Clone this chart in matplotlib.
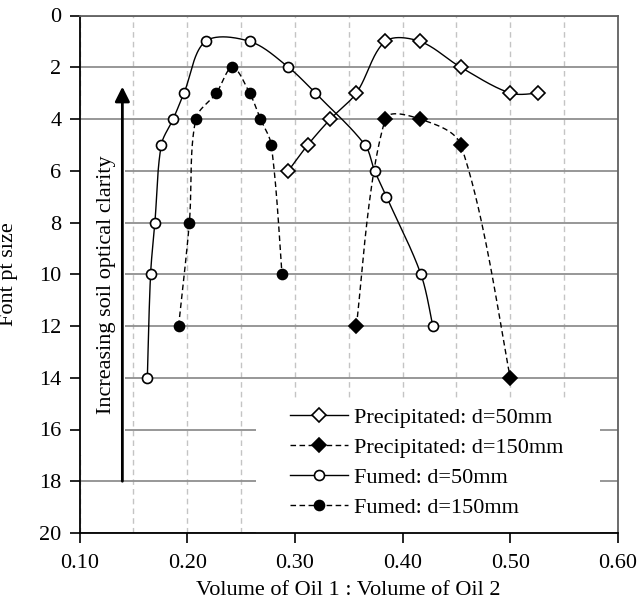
import numpy as np
import matplotlib
matplotlib.use('Agg')
import matplotlib.pyplot as plt
from matplotlib.patches import Rectangle
from matplotlib.lines import Line2D

plt.rcParams['font.family'] = ['Liberation Serif', 'DejaVu Serif']

# ---- data ----
prec50_x = [0.294, 0.312, 0.333, 0.357, 0.384, 0.416, 0.454, 0.500, 0.526]
prec50_y = [6, 5, 4, 3, 1, 1, 2, 3, 3]
prec150_x = [0.357, 0.384, 0.416, 0.454, 0.500]
prec150_y = [12, 4, 4, 5, 14]
fumed50_x = [0.163, 0.166, 0.170, 0.176, 0.187, 0.197, 0.217, 0.258, 0.294,
             0.319, 0.365, 0.374, 0.385, 0.417, 0.428]
fumed50_y = [14, 10, 8, 5, 4, 3, 1, 1, 2, 3, 5, 6, 7, 10, 12]
fumed150_x = [0.192, 0.202, 0.208, 0.227, 0.242, 0.258, 0.268, 0.278, 0.288]
fumed150_y = [12, 8, 4, 3, 2, 3, 4, 5, 10]

labels = ['Precipitated: d=50mm', 'Precipitated: d=150mm',
          'Fumed: d=50mm', 'Fumed: d=150mm']
xticks = [0.10, 0.20, 0.30, 0.40, 0.50, 0.60]
yticks = list(range(0, 21, 2))

# screen scale (px per data unit) used for smoothing like a spreadsheet chart
SX, SY = 1075.0, 25.85


def smooth(xs, ys, n=40):
    P = np.column_stack([np.asarray(xs) * SX, np.asarray(ys) * SY])
    E = np.vstack([P[0], P, P[-1]])
    out = []
    t = np.linspace(0, 1, n)[:, None]
    for i in range(len(P) - 1):
        p0, p1, p2, p3 = E[i], E[i + 1], E[i + 2], E[i + 3]
        d01 = np.hypot(*(p1 - p0))
        d12 = np.hypot(*(p2 - p1))
        d23 = np.hypot(*(p3 - p2))
        f1 = d12 / (d01 + d12) / 3.0 if d01 > 0 else 1 / 6.0
        f2 = d12 / (d12 + d23) / 3.0 if d23 > 0 else 1 / 6.0
        c1 = p1 + (p2 - p0) * f1
        c2 = p2 - (p3 - p1) * f2
        seg = (1 - t) ** 3 * p1 + 3 * (1 - t) ** 2 * t * c1 + 3 * (1 - t) * t ** 2 * c2 + t ** 3 * p2
        out.append(seg if i == 0 else seg[1:])
    pts = np.vstack(out)
    return pts[:, 0] / SX, pts[:, 1] / SY


fig = plt.figure(figsize=(6.37, 6.06), dpi=100)
ax = fig.add_axes([79.5 / 637, 1 - 533 / 606, (618 - 79.5) / 637, (533 - 15.5) / 606])

ax.set_xlim(0.10, 0.60)
ax.set_ylim(20, 0)

dash = (0, (4, 2.5))
series = [
    (prec50_x, prec50_y, '-', 'D', 'white'),
    (prec150_x, prec150_y, dash, 'D', 'black'),
    (fumed50_x, fumed50_y, '-', 'o', 'white'),
    (fumed150_x, fumed150_y, dash, 'o', 'black'),
]
handles = []
for (xs, ys, ls, mk, fc), lab in zip(series, labels):
    sx, sy = smooth(xs, ys)
    ax.plot(sx, sy, color='black', lw=1.0, ls=ls, zorder=3)
    ms = 7.2 if mk == 'o' else 6.8
    ax.plot(xs, ys, ls='none', marker=mk, ms=ms, mfc=fc, mec='black', mew=1.2, zorder=4)
    handles.append(Line2D([], [], color='black', lw=1.0, ls=ls, marker=mk,
                          ms=ms, mfc=fc, mec='black', mew=1.2))

# grid
ax.set_xticks(xticks)
ax.set_xticklabels(['%.2f' % v for v in xticks])
ax.set_xticks(np.arange(0.10, 0.601, 0.05), minor=True)
ax.set_yticks(yticks)
ax.grid(axis='x', which='both', ls=(0, (4, 3)), color='#c4c4c4', lw=1.0)
ax.grid(axis='y', which='major', ls='-', color='#8f8f8f', lw=1.3)
ax.set_axisbelow(True)
ax.tick_params(axis='both', which='major', direction='out', length=7, width=1.2,
               labelsize=16, colors='black')
ax.tick_params(axis='x', which='minor', length=0)
ax.tick_params(axis='x', pad=8)
ax.tick_params(axis='y', pad=6)

for s in ['left', 'bottom']:
    ax.spines[s].set_color('black')
    ax.spines[s].set_linewidth(1.3)
for s in ['top', 'right']:
    ax.spines[s].set_color('#606060')
    ax.spines[s].set_linewidth(1.3)

ax.set_xlabel('Volume of Oil 1 : Volume of Oil 2', fontsize=16, labelpad=6)
ax.set_ylabel('Font pt size', fontsize=16)
ax.yaxis.set_label_coords(-0.115, 0.5)

# white box behind the arrow annotation
ax.add_patch(Rectangle((0.10, 4.05), 0.0418, 12.95, facecolor='white',
                       edgecolor='none', zorder=1))
ax.annotate('', xy=(0.1398, 2.75), xytext=(0.1398, 18.0),
            arrowprops=dict(arrowstyle='-|>', lw=2.0, color='black',
                            mutation_scale=22, shrinkA=0, shrinkB=0), zorder=5)
ax.text(0.1252, 10.4, 'Increasing soil optical clarity', rotation=90,
        ha='center', va='center', fontsize=16, zorder=5)

# white box behind the legend
ax.add_patch(Rectangle((0.2637, 14.78), 0.3195, 5.22, facecolor='white',
                       edgecolor='none', zorder=1))
leg = ax.legend(handles, labels, loc='upper left', frameon=False, fontsize=16,
                bbox_to_anchor=((290 - 79.5) / 538.5, 1 - (407 - 15.5) / 517.5),
                borderaxespad=0, borderpad=0, handlelength=2.6,
                handletextpad=0.3, labelspacing=0.43)

fig.savefig('out.png', dpi=100)
